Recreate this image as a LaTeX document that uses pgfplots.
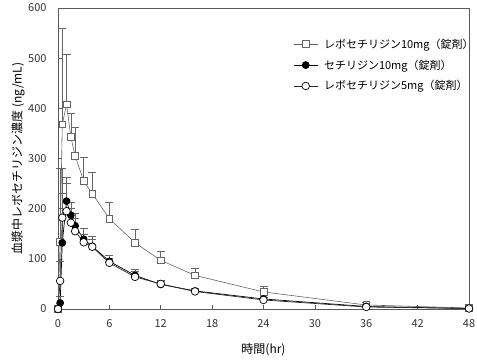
\documentclass[border=0pt]{standalone}
\usepackage{fontspec}
\setmainfont{Noto Sans CJK JP}
\usepackage{pgfplots}
\pgfplotsset{compat=1.18}
\usepackage{pgfplotstable}
\pgfplotstableread{
t y ey
0 0 0
0.25 134 146
0.5 368 192
1 408 100
1.5 343 47
2 305 57
3 255 47
4 230 42
6 180 33
9 132 26
12 97 19
16 67 14
24 34 12
36 8 5
48 2 2
}\levoTen
\pgfplotstableread{
t y ey
0 0 0
0.25 12 14
0.5 132 148
1 215 48
1.5 187 25
2 166 24
3 139 21
4 125 20
6 95 13
9 67 13
12 49 9
16 36 6
24 20 8
36 5 3
48 1 1
}\cetTen
\pgfplotstableread{
t y ey
0 0 0
0.25 56 40
0.5 182 48
1 195 56
1.5 172 28
2 155 25
3 133 17
4 124 16
6 92 10
9 64 12
12 50 5
16 35 5
24 18 6
36 4 2
48 1 1
}\levoFive
\begin{document}
\begin{tikzpicture}
\begin{axis}[
  at={(0,0)}, anchor=south west,
  scale only axis,
  width=411pt, height=301pt,
  xmin=0, xmax=48, ymin=0, ymax=600,
  xtick={0,6,...,48}, ytick={0,100,...,600},
  tick pos=left, tick align=inside,
  major tick length=4pt,
  axis line style={gray!70!black, line width=0.6pt},
  tick style={gray!70!black, line width=0.6pt},
  /pgf/number format/assume math mode=true,
  ticklabel style={font=\fontsize{11}{13}\selectfont, text=black!80},
  xticklabel style={yshift=-7pt},
  yticklabel style={xshift=-8pt},
  xlabel={時間(hr)},
  ylabel={血漿中レボセチリジン濃度 (ng/mL)},
  label style={font=\fontsize{12}{14}\selectfont},
  xlabel style={at={(axis description cs:0.5,-0.136)}, anchor=center},
  ylabel style={at={(axis description cs:-0.097,0.5)}, anchor=center},
  clip=false,
  legend style={draw=none, fill=none, at={(axis description cs:0.565,0.912)}, anchor=north west,
    font=\fontsize{11}{13}\selectfont, row sep=6pt,
    /tikz/every odd column/.append style={column sep=4pt}},
  legend image code/.code={
    \draw[mark repeat=2,mark phase=2,#1] plot coordinates {(0cm,0cm) (0.42cm,0cm) (0.84cm,0cm)};},
  legend cell align=left,
  error bars/y dir=plus,
  error bars/y explicit,
  error bars/error bar style={gray!80!black, line width=0.5pt},
  error bars/error mark options={rotate=90, mark size=4pt, gray!80!black, line width=0.5pt},
]
\addplot[gray!80!black, line width=0.6pt, mark=square*, mark size=3.4pt,
  mark options={fill=white, draw=gray!80!black}]
  table[x=t, y=y, y error=ey] {\levoTen};
\addlegendentry{レボセチリジン10mg（錠剤）}
\addplot[black, line width=0.7pt, mark=*, mark size=3.5pt,
  mark options={fill=black, draw=black}]
  table[x=t, y=y, y error=ey] {\cetTen};
\addlegendentry{セチリジン10mg（錠剤）}
\addplot[black!85, line width=0.7pt, mark=*, mark size=3.8pt,
  mark options={fill=white, draw=black}]
  table[x=t, y=y, y error=ey] {\levoFive};
\addlegendentry{レボセチリジン5mg（錠剤）}
\end{axis}
\pgfresetboundingbox
\path (-58pt,-51pt) rectangle (419pt,309pt);
\end{tikzpicture}
\end{document}
